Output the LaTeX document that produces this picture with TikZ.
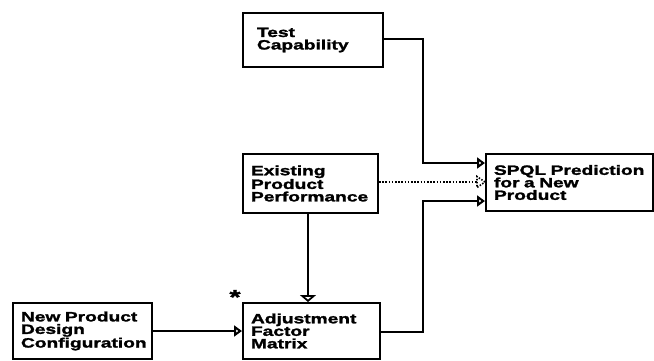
\documentclass[tikz,border=0pt]{standalone}
\usepackage{fontspec}
\newfontfamily\boxfont{Liberation Sans}[FakeStretch=1.42, FakeBold=1.8]
\usetikzlibrary{arrows.meta}
\begin{document}
\begin{tikzpicture}[x=1pt,y=-1pt,
  blk/.style={draw, line width=2pt, rectangle, anchor=north west,
    inner xsep=8pt, inner ysep=0pt, align=left,
    font=\boxfont\bfseries\fontsize{13.5}{12.5}\selectfont},
  link/.style={line width=2pt},
  tip/.style={-{Triangle[open, length=8pt, width=11pt, line width=2pt]}},
  widetip/.style={-{Triangle[open, length=7pt, width=16pt, line width=2pt]}},
  dots/.style={line width=2pt, dash pattern=on 1.6pt off 1.6pt}]
\useasboundingbox (0,0) rectangle (654,360);

% boxes
\node[blk, minimum width=140pt, minimum height=54pt, text width=120pt] (test) at (242,12)
  {\hspace*{4pt}Test\\\hspace*{4pt}Capability};
\node[blk, minimum width=135pt, minimum height=59pt, text width=119pt] (exist) at (242,153)
  {Existing\\Product\\Performance};
\node[blk, minimum width=167pt, minimum height=57pt, text width=151pt] (spql) at (485,153)
  {SPQL~Prediction\\for a New\\Product};
\node[blk, minimum width=137pt, minimum height=56pt, text width=121pt] (adj) at (242,302)
  {Adjustment\\Factor\\Matrix};
\node[blk, minimum width=139pt, minimum height=56pt, text width=123pt] (newp) at (12,302)
  {New~Product\\Design\\Configuration};
\node[font=\boxfont\bfseries\fontsize{20}{20}\selectfont, inner sep=0pt] (star) at (235,297) {*};

% bends of the connectors
\coordinate (c1) at (423,39);
\coordinate (c2) at (423,163);
\coordinate (c3) at (423,332);
\coordinate (c4) at (423,201);

% connectors
\draw[link, tip] (test.east |- c1) -- (c1) -- (c2) -- (spql.west |- c2);
\draw[link, tip] (adj.east |- c3) -- (c3) -- (c4) -- (spql.west |- c4);
\draw[link, widetip] (exist.south -| 308,0) -- (adj.north -| 308,0);
\draw[link, tip] (newp.east |- 0,331) -- (adj.west |- 0,331);

% dotted link with its dotted open head
\coordinate (d1) at (477,182);
\draw[dots] (exist.east |- d1) -- (d1);
\draw[line width=1.6pt, dash pattern=on 1.5pt off 1.5pt]
  (spql.west |- 0,182) -- (477,176.5) -- (477,187.5) -- cycle;
\end{tikzpicture}
\end{document}
